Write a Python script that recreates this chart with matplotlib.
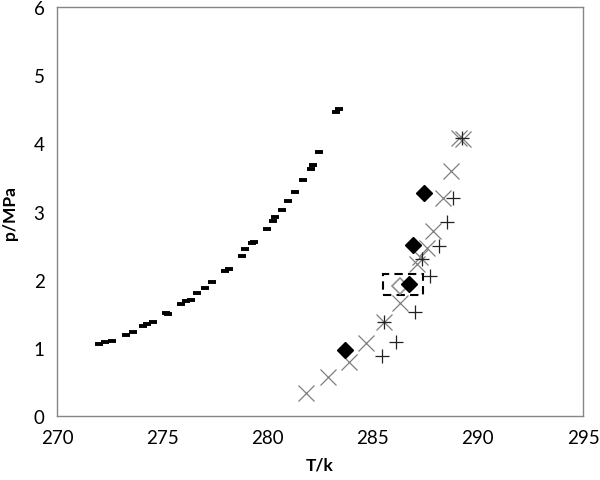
import numpy as np
import matplotlib
matplotlib.use("Agg")
import matplotlib.pyplot as plt
from matplotlib.patches import Rectangle

plt.rcParams['font.family'] = ['Lato', 'DejaVu Sans']

# left curve (dash markers)
T_dash = [272.01, 272.28, 272.60, 273.28, 273.60, 274.07, 274.26, 274.58,
          275.18, 275.29, 275.88, 276.13, 276.35, 276.67, 277.05, 277.38,
          277.98, 278.17, 278.78, 278.95, 279.28, 279.36, 280.00, 280.25,
          280.36, 280.69, 280.96, 281.30, 281.68, 282.09, 282.18, 282.45,
          283.26, 283.40]
p_dash = [1.052, 1.081, 1.105, 1.188, 1.237, 1.325, 1.354, 1.379,
          1.511, 1.492, 1.643, 1.683, 1.706, 1.800, 1.882, 1.961,
          2.127, 2.152, 2.351, 2.445, 2.538, 2.552, 2.739, 2.865,
          2.924, 3.026, 3.149, 3.281, 3.466, 3.623, 3.678, 3.873,
          4.464, 4.508]

# grey crosses
T_x = [281.83, 282.89, 283.89, 284.69, 285.54, 286.30, 287.10, 287.25,
       287.60, 287.89, 288.33, 288.71, 289.12, 289.31]
p_x = [0.337, 0.568, 0.797, 1.071, 1.375, 1.658, 2.230, 2.328,
       2.460, 2.718, 3.194, 3.590, 4.074, 4.063]

# black plus
T_plus = [285.43, 286.11, 285.56, 287.02, 287.73, 287.33, 288.17, 288.52,
          288.84, 289.23]
p_plus = [0.876, 1.081, 1.375, 1.521, 2.049, 2.303, 2.498, 2.850,
          3.202, 4.074]

# black diamonds
T_dia = [283.69, 286.73, 286.93, 287.44]
p_dia = [0.973, 1.936, 2.504, 3.271]

# open grey diamond
T_open = [286.28]
p_open = [1.90]

# dashed box (T range, p range)
box_T = (285.48, 287.38)
box_p = (1.779, 2.083)

fig = plt.figure(figsize=(6.0, 4.81), dpi=100)
ax = fig.add_axes([0.095, 0.133, 0.8767, 0.8504])

ax.plot(T_dash, p_dash, linestyle='none', marker='_', ms=6, mew=2.8,
        color='black')
ax.plot(T_open, p_open, linestyle='none', marker='D', ms=8.5, mfc='none',
        mec='#909090', mew=1.2)
ax.plot(T_x, p_x, linestyle='none', marker='x', ms=11, mew=0.9,
        color='#7f7f7f')
ax.plot(T_plus, p_plus, linestyle='none', marker='+', ms=10, mew=0.9,
        color='#222222')
ax.plot(T_dia, p_dia, linestyle='none', marker='D', ms=8.5, color='black')

ax.add_patch(Rectangle((box_T[0], box_p[0]), box_T[1] - box_T[0],
                       box_p[1] - box_p[0], fill=False, edgecolor='black',
                       linestyle=(0, (4, 2.5)), linewidth=1.5))

ax.set_xlim(270, 295)
ax.set_ylim(0, 6)
ax.set_xticks(np.arange(270, 296, 5))
ax.set_yticks(np.arange(0, 7, 1))
ax.tick_params(length=0, labelsize=13.5, colors='black')
ax.tick_params(axis='x', pad=9)
ax.tick_params(axis='y', pad=9)
for s in ax.spines.values():
    s.set_color('#868686')
    s.set_linewidth(1.0)

ax.set_xlabel('T/k', fontsize=12.5, fontweight='bold', labelpad=8)
ax.set_ylabel('p/MPa', fontsize=12.5, fontweight='bold', labelpad=11)

fig.savefig('out.png', dpi=100)
